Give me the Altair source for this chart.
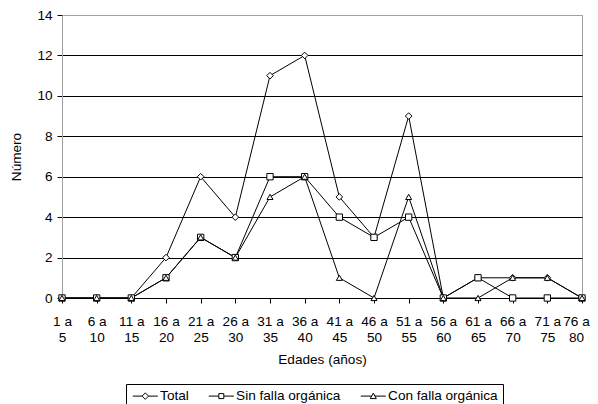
import altair as alt
import pandas as pd

# ---- data ----
categories = ["1 a 5", "6 a 10", "11 a 15", "16 a 20", "21 a 25", "26 a 30",
              "31 a 35", "36 a 40", "41 a 45", "46 a 50", "51 a 55", "56 a 60",
              "61 a 65", "66 a 70", "71 a 75", "76 a 80"]
total = [0, 0, 0, 2, 6, 4, 11, 12, 5, 3, 9, 0, 1, 1, 1, 0]
sin_falla = [0, 0, 0, 1, 3, 2, 6, 6, 4, 3, 4, 0, 1, 0, 0, 0]
con_falla = [0, 0, 0, 1, 3, 2, 5, 6, 1, 0, 5, 0, 0, 1, 1, 0]
series_names = ["Total", "Sin falla orgánica", "Con falla orgánica"]
y_ticks = [0, 2, 4, 6, 8, 10, 12, 14]

rows = []
for name, vals in zip(series_names, [total, sin_falla, con_falla]):
    for c, v in zip(categories, vals):
        rows.append({"Edad": c, "Serie": name, "Numero": v})
df = pd.DataFrame(rows)

FONT = "Liberation Sans"
FS = 13.6
GRAY = "#a0a0a0"
NBSP4 = "\u00a0\u00a0\u00a0\u00a0"

x_enc = alt.X(
    "Edad:N", sort=categories,
    scale=alt.Scale(type="point", padding=0),
    axis=alt.Axis(
        title="Edades (años)",
        labelExpr="[split(datum.label, ' a ')[0] + ' a', split(datum.label, ' a ')[1]]",
        labelAngle=0, labelAlign="center", labelLineHeight=16.7,
        labelOverlap=False, labelPadding=11, tickSize=5,
        labelOffset={"condition": {"test": "datum.value === '76 a 80'", "value": -6}, "value": 0},
        tickColor="black", domainColor="black", labelColor="black",
        labelFont=FONT, labelFontSize=FS,
        titleFont=FONT, titleFontSize=FS, titleFontWeight="normal",
        titleColor="black", titleY=65, titleBaseline="alphabetic",
        grid=False, zindex=0,
    ),
)
y_enc = alt.Y(
    "Numero:Q",
    scale=alt.Scale(domain=[0, 14], nice=False, zero=True),
    axis=alt.Axis(
        values=y_ticks, title="Número",
        grid=True,
        gridColor={"condition": {"test": "datum.value === 14", "value": GRAY}, "value": "black"},
        gridWidth=1,
        domainColor=GRAY, tickColor="black", tickSize=5, labelPadding=5,
        labelColor="black", labelFont=FONT, labelFontSize=FS,
        titleFont=FONT, titleFontSize=FS, titleFontWeight="normal",
        titleColor="black", titleX=-42, titleBaseline="alphabetic", zindex=0,
    ),
)

lines = alt.Chart(df).mark_line(color="black", strokeWidth=1).encode(
    x=x_enc, y=y_enc, detail="Serie:N"
)

points = alt.Chart(df).mark_point(
    filled=True, fill="white", stroke="black", strokeWidth=1, opacity=1
).encode(
    x=x_enc, y=y_enc,
    shape=alt.Shape("Serie:N", scale=alt.Scale(domain=series_names,
                    range=["diamond", "square", "triangle-up"]), legend=None),
    size=alt.Size("Serie:N", scale=alt.Scale(domain=series_names,
                  range=[44, 36, 45]), legend=None),
)

legend_paths = [
    "M -2.5 0 L -0.65 0 M 0.65 0 L 2.5 0 M 0 -0.65 L 0.65 0 L 0 0.65 L -0.65 0 Z",
    "M -2.5 0 L -0.5 0 M 0.5 0 L 2.5 0 M -0.5 -0.5 L 0.5 -0.5 L 0.5 0.5 L -0.5 0.5 Z",
    "M -2.5 0 L -0.33 0 M 0.33 0 L 2.5 0 M 0 -0.6 L 0.6 0.5 L -0.6 0.5 Z",
]

# legend-only layer: its rows are filtered out, the legend comes from the explicit domain
legend_layer = alt.Chart(df).transform_filter("false").mark_point(
    filled=False, stroke="black", strokeWidth=1, size=100
).encode(
    x=x_enc, y=y_enc,
    shape=alt.Shape(
        "Serie:N",
        scale=alt.Scale(domain=series_names, range=legend_paths),
        legend=alt.Legend(
            title=None, orient="none", legendX=64, legendY=369,
            direction="horizontal", columns=3,
            strokeColor="black", fillColor="white", padding=5, cornerRadius=0,
            symbolSize=100, symbolFillColor="white", symbolStrokeColor="black",
            symbolStrokeWidth=1, symbolOpacity=1,
            symbolOffset=7.5, labelOffset=8, columnPadding=17,
            labelExpr="datum.label === 'Con falla orgánica' ? datum.label + '" + NBSP4 + "' : datum.label",
            labelFont=FONT, labelFontSize=FS, labelColor="black",
        ),
    ),
)

chart = alt.layer(lines, points, legend_layer).resolve_scale(
    shape="independent", size="independent"
).properties(
    width=520, height=283,
    autosize=alt.AutoSizeParams(type="none"),
    padding={"left": 54, "top": 7, "right": 8, "bottom": 106},
    background="white",
).configure_view(stroke=GRAY, strokeWidth=1)

chart.save("out.html", embed_options={"renderer": "svg", "actions": False})
